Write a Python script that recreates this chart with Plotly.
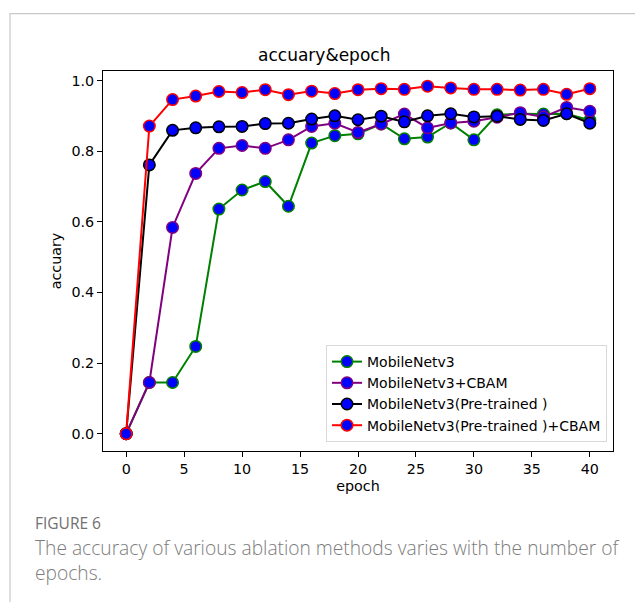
import plotly.graph_objects as go

epochs = [0, 2, 4, 6, 8, 10, 12, 14, 16, 18, 20, 22, 24, 26, 28, 30, 32, 34, 36, 38, 40]

mobilenet = [0.0, 0.145, 0.145, 0.247, 0.636, 0.690, 0.714, 0.644, 0.823, 0.844, 0.849, 0.877,
             0.835, 0.840, 0.880, 0.832, 0.903, 0.906, 0.905, 0.906, 0.888]
mobilenet_cbam = [0.0, 0.145, 0.584, 0.737, 0.808, 0.816, 0.808, 0.832, 0.870, 0.879, 0.853, 0.877,
                  0.905, 0.866, 0.880, 0.885, 0.896, 0.909, 0.897, 0.924, 0.913]
pretrained = [0.0, 0.761, 0.859, 0.866, 0.869, 0.870, 0.878, 0.879, 0.891, 0.900, 0.889, 0.899,
              0.883, 0.900, 0.906, 0.897, 0.899, 0.890, 0.887, 0.906, 0.879]
pretrained_cbam = [0.0, 0.871, 0.946, 0.956, 0.969, 0.966, 0.974, 0.960, 0.970, 0.963, 0.974, 0.977,
                   0.975, 0.984, 0.979, 0.975, 0.975, 0.973, 0.975, 0.961, 0.977]

series_names = ["MobileNetv3", "MobileNetv3+CBAM", "MobileNetv3(Pre-trained )", "MobileNetv3(Pre-trained )+CBAM"]
series_values = [mobilenet, mobilenet_cbam, pretrained, pretrained_cbam]
series_colors = ["#008000", "#800080", "#000000", "#ff0000"]

x_ticks = [0, 5, 10, 15, 20, 25, 30, 35, 40]
y_ticks = [0.0, 0.2, 0.4, 0.6, 0.8, 1.0]
y_ticklabels = ["0.0", "0.2", "0.4", "0.6", "0.8", "1.0"]

# page body has an 8px margin, so the figure is placed at (8, 8)
OFF = 8
W, H = 643 - OFF, 602 - OFF
# plot area in window pixels
L, R, T, B = 103 - OFF, 613 - OFF, 70.5 - OFF, 451 - OFF

fig = go.Figure()
for name, vals, col in zip(series_names, series_values, series_colors):
    fig.add_trace(go.Scatter(
        x=epochs, y=vals, name=name, mode="lines+markers",
        line=dict(color=col, width=2),
        marker=dict(color="#0000ff", size=11.5, line=dict(color=col, width=1.5)),
    ))


def px_x(px):
    return (px - OFF - L) / (R - L)


def px_y(py):
    return (B - (py - OFF)) / (B - T)


font = "DejaVu Sans, sans-serif"
fs = 14.3

fig.update_layout(
    width=W, height=H,
    paper_bgcolor="white", plot_bgcolor="white",
    margin=dict(l=L, r=W - R, t=T, b=H - B, pad=0),
    showlegend=True,
    font=dict(family=font, size=fs, color="#000000"),
    title=dict(text="accuary&epoch", x=px_x(357), xanchor="center", y=1 - (55 - OFF) / H, yanchor="middle",
               font=dict(family=font, size=17, color="#000000")),
    legend=dict(x=px_x(607), xanchor="right", y=px_y(442), yanchor="bottom",
                bgcolor="rgba(255,255,255,0.8)", bordercolor="#d9d9d9", borderwidth=1,
                font=dict(family=font, size=14), tracegroupgap=0, itemwidth=30),
    xaxis=dict(range=[-2, 42], tickvals=x_ticks, showgrid=False, zeroline=False,
               showline=True, linecolor="#000000", linewidth=1, mirror=True,
               ticks="outside", ticklen=5, tickcolor="#000000",
               title=dict(text="epoch", font=dict(size=fs), standoff=4)),
    yaxis=dict(range=[-0.049, 1.027], tickvals=y_ticks, ticktext=y_ticklabels, showgrid=False, zeroline=False,
               showline=True, linecolor="#000000", linewidth=1, mirror=True,
               ticks="outside", ticklen=5, tickcolor="#000000",
               title=dict(text="accuary", font=dict(size=fs), standoff=6)),
)

# outer light frame
fig.add_shape(type="rect", xref="paper", yref="paper",
              x0=px_x(10), x1=px_x(700), y0=px_y(700), y1=px_y(13),
              line=dict(color="#c8c8c8", width=1.2), fillcolor="rgba(0,0,0,0)", layer="below")

cap_font = "Open Sans, sans-serif"
fig.add_annotation(xref="paper", yref="paper", x=px_x(33), y=px_y(523), xanchor="left", yanchor="middle",
                   text="FIGURE 6", showarrow=False,
                   font=dict(family=cap_font, size=15.5, color="#707070"))
fig.add_annotation(xref="paper", yref="paper", x=px_x(33), y=px_y(548), xanchor="left", yanchor="middle",
                   text="The accuracy of various ablation methods varies with the number of", showarrow=False,
                   font=dict(family=cap_font, size=19.2, color="#7c7c7c", weight=300))
fig.add_annotation(xref="paper", yref="paper", x=px_x(33), y=px_y(573), xanchor="left", yanchor="middle",
                   text="epochs.", showarrow=False,
                   font=dict(family=cap_font, size=19.2, color="#7c7c7c", weight=300))

fig.write_html("out.html")
